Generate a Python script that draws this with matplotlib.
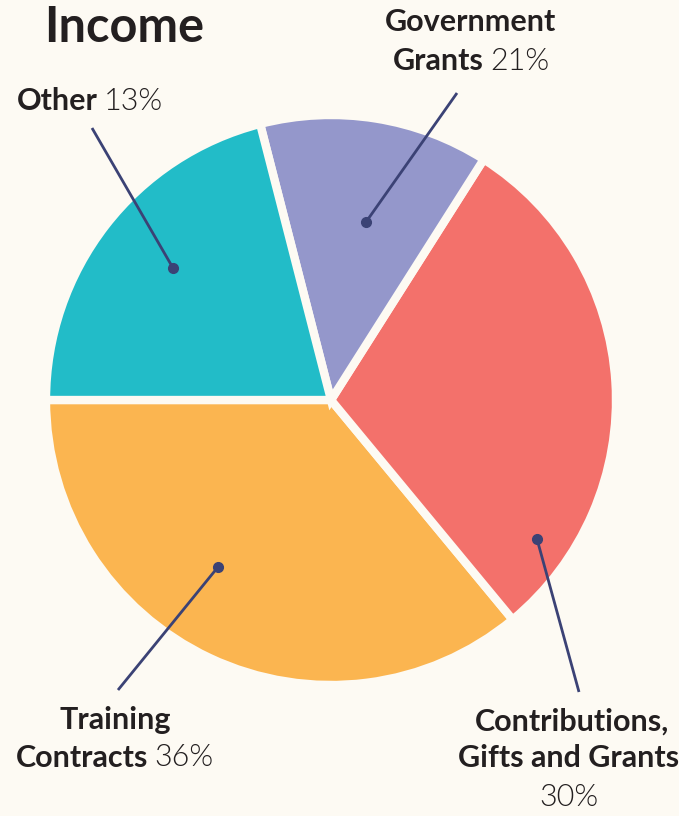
import matplotlib
matplotlib.use("Agg")
import matplotlib.pyplot as plt

# Data (slice sizes as drawn, label text as printed)
categories = ['Training Contracts', 'Contributions, Gifts and Grants', 'Government Grants', 'Other']
values = [36, 30, 13, 21]
pct_labels = ['36%', '30%', '21%', '13%']
colors = ['#fbb550', '#f3716b', '#9497cb', '#22bcc8']

bg = '#fdfaf3'
line_col = '#3b4275'
W, H = 679, 816

plt.rcParams['font.family'] = ['Lato', 'DejaVu Sans']

fig = plt.figure(figsize=(W / 100, H / 100), dpi=100, facecolor=bg)
ax = fig.add_axes([0, 0, 1, 1])

cx, cy, r = 331, H - 400, 285
ax.pie(values, colors=colors, startangle=180, counterclock=True,
       center=(cx, cy), radius=r, frame=True,
       wedgeprops=dict(edgecolor=bg, linewidth=6, joinstyle='miter'))
ax.set_xlim(0, W)
ax.set_ylim(0, H)
ax.set_aspect('equal')
ax.axis('off')

# leader lines: (dot, text end) in pixel coords from top-left
leaders = [((218, 567), (118, 690)),
           ((537, 539), (579, 692)),
           ((366, 222), (457, 93)),
           ((173, 268), (92, 128))]
for (x0, y0), (x1, y1) in leaders:
    ax.plot([x0, x1], [H - y0, H - y1], color=line_col, lw=2, solid_capstyle='butt')
    ax.plot(x0, H - y0, 'o', color=line_col, ms=7)

renderer = fig.canvas.get_renderer()
fs = 22


def rich_line(xc, y, parts):
    objs = []
    for txt, wt in parts:
        t = ax.text(0, H - y, txt, fontsize=fs, fontweight=wt, color='#231f20',
                    ha='left', va='center')
        objs.append(t)
    widths = [o.get_window_extent(renderer).width for o in objs]
    gap = 6
    total = sum(widths) + gap * (len(objs) - 1)
    x = xc - total / 2
    for o, w in zip(objs, widths):
        o.set_x(x)
        x += w + gap


ax.text(124, H - 27, 'Income', fontsize=35, fontweight='bold', color='#231f20',
        ha='center', va='center')

rich_line(90, 101, [('Other', 'bold'), (pct_labels[3], 300)])
rich_line(470, 22, [('Government', 'bold')])
rich_line(471, 61, [('Grants', 'bold'), (pct_labels[2], 300)])
rich_line(115, 720, [('Training', 'bold')])
rich_line(115, 758, [('Contracts', 'bold'), (pct_labels[0], 300)])
rich_line(572, 722, [('Contributions,', 'bold')])
rich_line(569, 758, [('Gifts and Grants', 'bold')])
rich_line(569, 797, [(pct_labels[1], 300)])

fig.savefig('out.png', dpi=100, facecolor=bg)
